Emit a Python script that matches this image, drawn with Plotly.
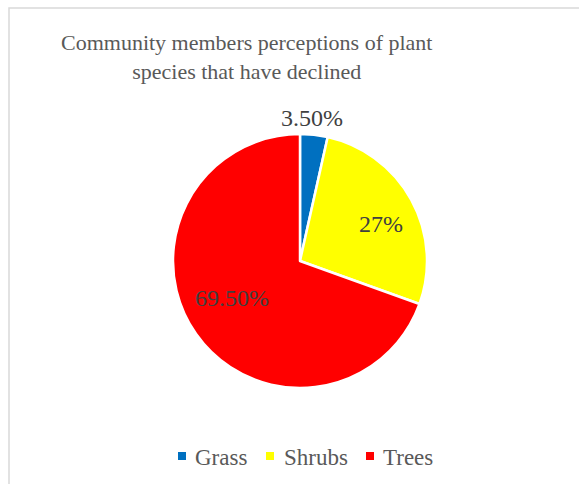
import math
import plotly.graph_objects as go

categories = ["Grass", "Shrubs", "Trees"]
shares = [3.5, 27.0, 69.5]
share_labels = ["3.50%", "27%", "69.50%"]
colors = ["#0070C0", "#FFFF00", "#FF0000"]

W, H = 579, 484
SERIF = "Times New Roman, Liberation Serif, serif"

# pie geometry (pixels)
CX, CY, R = 300, 261, 127
# data-label placement: radius fraction and angular nudge (degrees) from the slice mid-angle
label_radius = [1.13, 0.70, 0.61]
label_nudge = [-1.5, 4.0, 6.5]
# legend layout: swatch left edge and text left edge per item (pixels)
legend_swatch_x = [178, 266, 366]
legend_text_x = [193, 282, 381]
LEGEND_Y = 456

fig = go.Figure(
    go.Pie(
        labels=categories,
        values=shares,
        textinfo="none",
        sort=False,
        direction="clockwise",
        rotation=0,
        marker=dict(colors=colors, line=dict(color="white", width=2.5)),
        domain=dict(x=[(CX - R) / W, (CX + R) / W], y=[1 - (CY + R) / H, 1 - (CY - R) / H]),
        hoverinfo="label+percent",
        showlegend=False,
    )
)

annotations = []
# data labels, positioned around each slice's mid-angle
total = sum(shares)
cum = 0.0
for val, lab, rf, nudge in zip(shares, share_labels, label_radius, label_nudge):
    mid = (cum + val / 2) / total * 2 * math.pi + math.radians(nudge)
    cum += val
    px = CX + rf * R * math.sin(mid)
    py = CY - rf * R * math.cos(mid)
    annotations.append(dict(
        x=px / W, y=1 - py / H, xref="paper", yref="paper",
        text=lab, showarrow=False, xanchor="center", yanchor="middle",
        font=dict(family=SERIF, size=24, color="#404040"),
    ))

# title
annotations.append(dict(
    x=247 / W, y=1 - 57 / H, xref="paper", yref="paper",
    text="Community members perceptions of plant<br>species that have declined",
    showarrow=False, xanchor="center", yanchor="middle", align="center",
    font=dict(family=SERIF, size=22, color="#595959"),
))

# legend
shapes = []
for name, col, sx, tx in zip(categories, colors, legend_swatch_x, legend_text_x):
    shapes.append(dict(
        type="rect", xref="paper", yref="paper",
        x0=sx / W, x1=(sx + 8) / W, y0=1 - (LEGEND_Y + 4) / H, y1=1 - (LEGEND_Y - 4) / H,
        fillcolor=col, line=dict(width=0),
    ))
    annotations.append(dict(
        x=tx / W, y=1 - (LEGEND_Y + 1) / H, xref="paper", yref="paper",
        text=name, showarrow=False, xanchor="left", yanchor="middle",
        font=dict(family=SERIF, size=23, color="#595959"),
    ))

# chart-area border
shapes.append(dict(
    type="rect", xref="paper", yref="paper",
    x0=9 / W, x1=1.05, y0=-0.05, y1=1 - 8 / H,
    line=dict(color="#D9D9D9", width=1.5),
    fillcolor="rgba(0,0,0,0)", layer="below",
))

fig.update_layout(
    width=W,
    height=H,
    margin=dict(l=0, r=0, t=0, b=0),
    paper_bgcolor="white",
    plot_bgcolor="white",
    showlegend=False,
    annotations=annotations,
    shapes=shapes,
)

fig.write_html("out.html")
